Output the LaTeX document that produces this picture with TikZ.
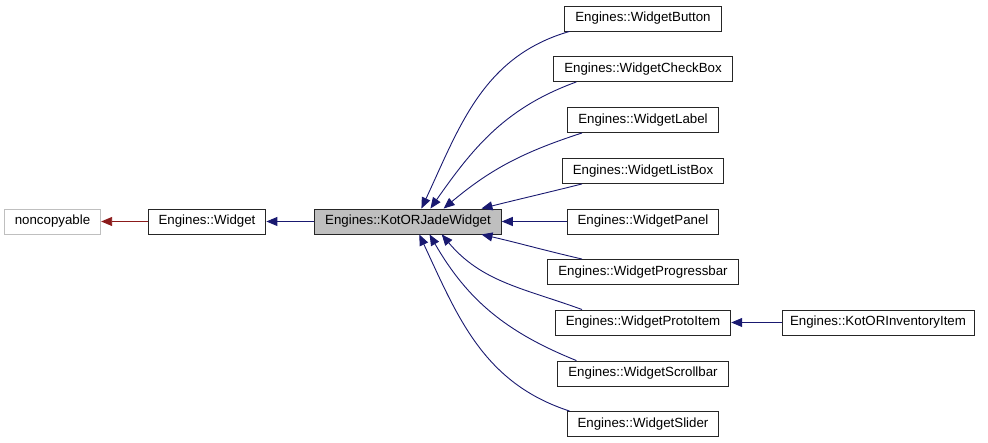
\documentclass[tikz,border=0pt]{standalone}
\usepackage{fontspec}
\setmainfont{Liberation Sans}
\usetikzlibrary{arrows.meta}
\definecolor{inhblue}{HTML}{191970}
\definecolor{extred}{HTML}{8B1A1A}
\definecolor{boxgray}{HTML}{BFBFBF}
\begin{document}
\begin{tikzpicture}
  [x=1pt,y=1pt,every node/.style={rectangle, draw=black!85, line width=0.9pt, minimum height=25pt,
     inner xsep=10.5pt, inner ysep=0pt, font=\fontsize{13.3}{16}\selectfont},
   pub/.style={draw=inhblue, line width=0.9pt, -{Triangle[length=11pt,width=9pt]}},
   ext/.style={draw=extred, line width=0.9pt, -{Triangle[length=11pt,width=9pt]}}]
  \useasboundingbox (0,0) rectangle (988,443);

  \node[draw=boxgray] (nc) at (52.5,221.5) {noncopyable};
  \node (wdg) at (207,221.5) {Engines::Widget};
  \node[fill=boxgray] (kjw) at (408,221.5) {Engines::KotORJadeWidget};

  \node (btn) at (643,424.5) {Engines::WidgetButton};
  \node (chk) at (643,374)   {Engines::WidgetCheckBox};
  \node (lbl) at (643,323)   {Engines::WidgetLabel};
  \node (lst) at (643,272)   {Engines::WidgetListBox};
  \node (pnl) at (643,221.5) {Engines::WidgetPanel};
  \node (prg) at (643,171)   {Engines::WidgetProgressbar};
  \node (prt) at (643,120.5) {Engines::WidgetProtoItem};
  \node (scr) at (643,69.5)  {Engines::WidgetScrollbar};
  \node (sld) at (643,19)    {Engines::WidgetSlider};
  \node[inner xsep=8pt] (inv) at (878,120.5) {Engines::KotORInventoryItem};

  \draw[ext] (wdg.west) -- (nc.east);
  \draw[pub] (kjw.west) -- (wdg.east);
  \draw[pub] (inv.west) -- (prt.east);

  \foreach \from/\fa/\ta/\o/\i in {btn/190/44/196/65, chk/191/30/200/55, lbl/192/20/198/40,
      lst/192/10/194/14, pnl/180/0/180/0, prg/168/-10/167/-13,
      prt/168/-21/160/-50, scr/169/-31/158/-60, sld/170/-49/162/-65}
    \draw[pub] (\from.\fa) to[out=\o,in=\i] (kjw.\ta);

\end{tikzpicture}
\end{document}
